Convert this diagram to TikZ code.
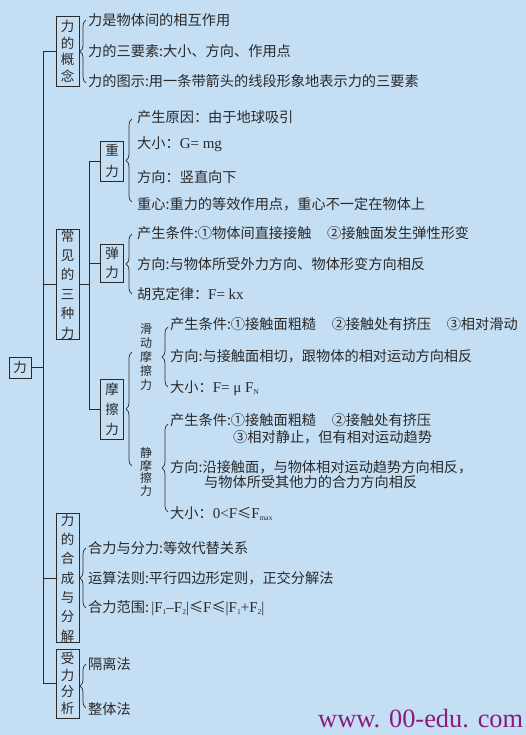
\documentclass[tikz,border=0pt]{standalone}
\usepackage{fontspec}
\setmainfont{Liberation Serif}
\newfontfamily\cjk{Noto Sans CJK SC}
\newfontfamily\latf{Liberation Serif}
\usetikzlibrary{decorations.pathreplacing}
\definecolor{bg}{HTML}{C4DEF4}
\definecolor{ink}{HTML}{2A2A2A}
\definecolor{wm}{HTML}{8A1C7E}
\newcommand{\lt}[1]{{\latf #1}}
\newcommand{\sbs}[1]{\raisebox{-0.35ex}{\latf\fontsize{7.5}{7.5}\selectfont #1}}
\tikzset{
 ln/.style={draw=ink, line width=0.8pt},
 vbox/.style={draw=ink, line width=0.8pt, inner sep=0pt, minimum width=23pt, align=center, text=ink},
 leaf/.style={anchor=west, inner sep=0pt, font=\cjk\fontsize{14.2}{16}\selectfont, text=ink, text height=12.3pt, text depth=1.9pt},
 sublab/.style={inner sep=0pt, align=center, text=ink},
 brc/.style={draw=ink, line width=0.7pt, decorate, decoration={brace, amplitude=6pt}},
}
\begin{document}
\begin{tikzpicture}[x=1pt,y=-1pt]
\fill[bg] (0,0) rectangle (526,735);
\useasboundingbox (0,0) rectangle (526,735);
% boxes
\node[vbox, minimum width=22pt, minimum height=21pt, font=\cjk\fontsize{13.5}{16}\selectfont] (root) at (20,367.5) {力};
\node[vbox, minimum height=70pt, font=\cjk\fontsize{13.5}{16.5}\selectfont] (gn) at (67.5,51) {力\\的\\概\\念};
\node[vbox, minimum height=97pt, font=\cjk\fontsize{13.5}{19.4}\selectfont] (cj) at (67.5,284.5) {常\\见\\的\\三\\种\\力};
\node[vbox, minimum height=40pt, font=\cjk\fontsize{13.5}{20.5}\selectfont] (zl) at (112,161) {重\\力};
\node[vbox, minimum height=38pt, font=\cjk\fontsize{13.5}{18.5}\selectfont] (tl) at (112,263) {弹\\力};
\node[vbox, minimum height=60pt, font=\cjk\fontsize{13.5}{20}\selectfont] (mc) at (112,409) {摩\\擦\\力};
\node[vbox, minimum height=116pt, font=\cjk\fontsize{13.5}{19.3}\selectfont] (hc) at (67.5,578) {力\\的\\合\\成\\与\\分\\解};
\node[vbox, minimum height=69pt, font=\cjk\fontsize{13.5}{16.5}\selectfont] (sl) at (67.5,683.5) {受\\力\\分\\析};
\node[sublab, font=\cjk\fontsize{12}{13.8}\selectfont] (hd) at (146,357) {滑\\动\\摩\\擦\\力};
\node[sublab, font=\cjk\fontsize{12}{12.8}\selectfont] (jm) at (146,472) {静\\摩\\擦\\力};
% trunk and branches
\coordinate (tx) at (43,0);
\coordinate (bx) at (89,0);
\draw[ln] (gn.west -| tx) -- (sl.west -| tx);
\draw[ln] (root.east) -- (root.east -| tx);
\foreach \n in {gn,cj,hc,sl} \draw[ln] (\n.west) -- (\n.west -| tx);
\draw[ln] (cj.east) -- (cj.east -| bx);
\draw[ln] (zl.west -| bx) -- (mc.west -| bx);
\foreach \n in {zl,tl,mc} \draw[ln] (\n.west) -- (\n.west -| bx);
% braces
\coordinate (b1s) at (86,83);   \coordinate (b1e) at (86,20);
\coordinate (b2s) at (132,202); \coordinate (b2e) at (132,119);
\coordinate (b3s) at (132,294); \coordinate (b3e) at (132,234);
\coordinate (b4s) at (132,466); \coordinate (b4e) at (132,352);
\coordinate (b5s) at (168,387); \coordinate (b5e) at (168,327);
\coordinate (b6s) at (168,512); \coordinate (b6e) at (168,424);
\coordinate (b7s) at (86,608);  \coordinate (b7e) at (86,548);
\coordinate (b8s) at (86,708);  \coordinate (b8e) at (86,664);
\foreach \i in {1,...,8} \draw[brc] (b\i s) -- (b\i e);
% leaves: concept
\node[leaf] (a1) at (88,20) {力是物体间的相互作用};
\node[leaf] (a2) at (88,51) {力的三要素:大小、方向、作用点};
\node[leaf] (a3) at (88,81) {力的图示:用一条带箭头的线段形象地表示力的三要素};
% gravity
\node[leaf] (g1) at (137,117) {产生原因：由于地球吸引};
\node[leaf] (g2) at (137,143) {大小：\lt{\fontsize{15}{16}\selectfont G= mg}};
\node[leaf] (g3) at (137,177) {方向：竖直向下};
\node[leaf] (g4) at (137,204) {重心:重力的等效作用点，重心不一定在物体上};
% elastic
\node[leaf] (e1) at (137,233) {产生条件:①物体间直接接触\hspace{1.1em}②接触面发生弹性形变};
\node[leaf] (e2) at (137,264) {方向:与物体所受外力方向、物体形变方向相反};
\node[leaf] (e3) at (137,294) {胡克定律：\lt{\fontsize{15}{16}\selectfont F= kx}};
% sliding friction
\node[leaf] (h1) at (170,324) {产生条件:①接触面粗糙\hspace{1.1em}②接触处有挤压\hspace{1.1em}③相对滑动};
\node[leaf] (h2) at (170,356) {方向:与接触面相切，跟物体的相对运动方向相反};
\node[leaf] (h3) at (170,387) {大小：\lt{\fontsize{15}{16}\selectfont F= μ F}\sbs{N}};
% static friction
\node[leaf] (s1) at (170,420) {产生条件:①接触面粗糙\hspace{1.1em}②接触处有挤压};
\node[leaf] (s1b) at (233,437) {③相对静止，但有相对运动趋势};
\node[leaf] (s2) at (170,467) {方向:沿接触面，与物体相对运动趋势方向相反，};
\node[leaf] (s2b) at (204,482) {与物体所受其他力的合力方向相反};
\node[leaf] (s3) at (170,513) {大小：\lt{\fontsize{15}{16}\selectfont 0<F}≤\lt{\fontsize{15}{16}\selectfont F}\sbs{max}};
% composition
\node[leaf] (c1) at (88,548) {合力与分力:等效代替关系};
\node[leaf] (c2) at (88,578) {运算法则:平行四边形定则，正交分解法};
\node[leaf] (c3) at (88,607) {合力范围:\,\lt{\fontsize{15}{16}\selectfont |F}\sbs{1}\lt{\fontsize{15}{16}\selectfont –F}\sbs{2}\lt{\fontsize{15}{16}\selectfont |}≤\lt{\fontsize{15}{16}\selectfont F}≤\lt{\fontsize{15}{16}\selectfont |F}\sbs{1}\lt{\fontsize{15}{16}\selectfont +F}\sbs{2}\lt{\fontsize{15}{16}\selectfont |}};
% analysis
\node[leaf] (f1) at (88,664) {隔离法};
\node[leaf] (f2) at (88,709) {整体法};
% watermark
\node[anchor=base west, inner sep=0pt, font=\latf\fontsize{26.4}{26.4}\selectfont, text=wm] (wmk) at (318,727) {www. 00-edu. com};
\end{tikzpicture}
\end{document}
